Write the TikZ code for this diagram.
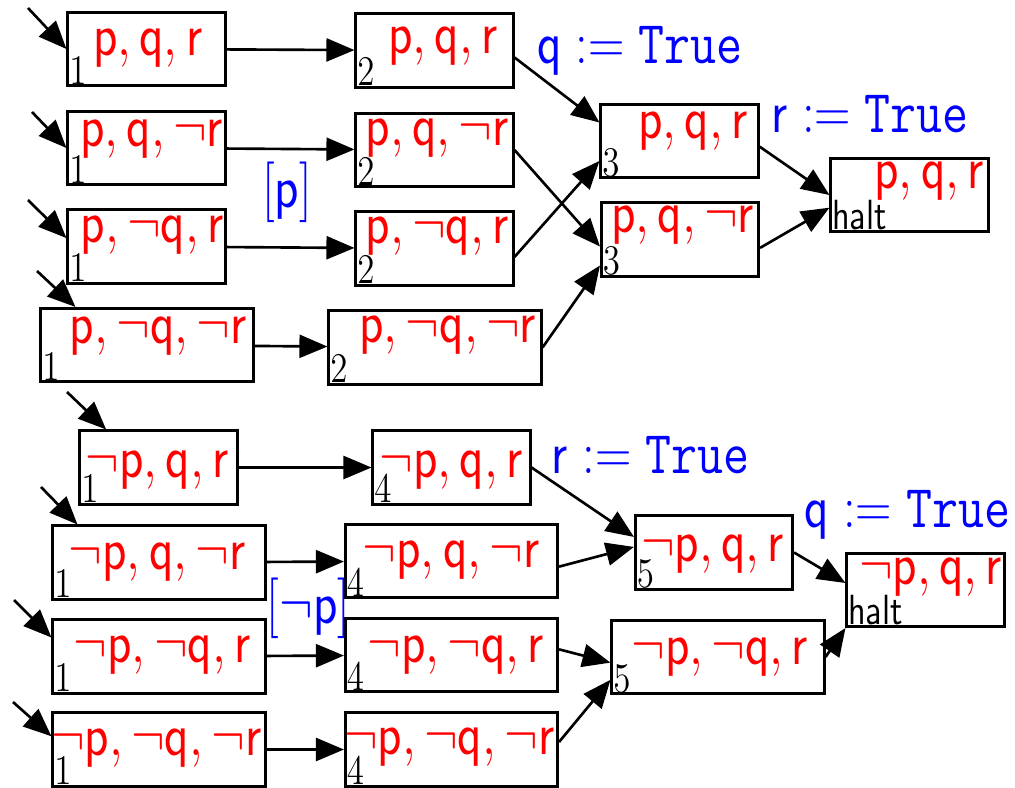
\documentclass[tikz,border=0pt]{standalone}
\usepackage{amsmath}
\usepackage{graphicx}
\usepackage{tikz}
\usetikzlibrary{arrows.meta}
\newcommand{\sq}[1]{\scalebox{0.83}[1]{#1}}
\tikzset{
  st/.style={draw, line width=0.85pt, minimum width=1.57cm, minimum height=0.73cm, inner sep=0pt},
  wide/.style={st, minimum width=2.12cm},
  lit/.style={text=red, font=\LARGE, inner sep=0pt},
  num/.style={anchor=south west, font=\large, inner sep=0.6pt},
  asg/.style={text=blue, font=\LARGE, inner sep=0pt, anchor=base},
  tr/.style={-{Triangle[length=2.8mm,width=2.3mm]}, line width=0.75pt}
}

\begin{document}
\begin{tikzpicture}[x=0.01cm, y=-0.01cm]
      \useasboundingbox (0,0) rectangle (1015,788);
      \node[st, label={[lit, shift={(1.5,-1)}]center:\sq{$\mathsf{p}, \mathsf{q}, \mathsf{r}$}}, label={[num]south west:\sq{$1$}}] (a1) at (146.5,49) {};
      \node[st, label={[lit, shift={(5.5,-9)}]center:\sq{$\mathsf{p}, \mathsf{q}, \neg\mathsf{r}$}}, label={[num]south west:\sq{$1$}}] (a2) at (146.5,148) {};
      \node[st, label={[lit, shift={(6,-11.5)}]center:\sq{$\mathsf{p}, \neg\mathsf{q}, \mathsf{r}$}}, label={[num]south west:\sq{$1$}}] (a3) at (146.5,246.5) {};
      \node[wide, label={[lit, shift={(11.5,-9)}]center:\sq{$\mathsf{p}, \neg\mathsf{q}, \neg\mathsf{r}$}}, label={[num]south west:\sq{$1$}}] (a4) at (147,345) {};
      \node[st, label={[lit, shift={(-1,2.5)}]center:\sq{$\neg\mathsf{p}, \mathsf{q}, \mathsf{r}$}}, label={[num]south west:\sq{$1$}}] (a5) at (158.5,467.5) {};
      \node[wide, label={[lit, shift={(-1.5,-0.5)}]center:\sq{$\neg\mathsf{p}, \mathsf{q}, \neg\mathsf{r}$}}, label={[num]south west:\sq{$1$}}] (a6) at (159,562.5) {};
      \node[wide, label={[lit, shift={(3.5,-1.5)}]center:\sq{$\neg\mathsf{p}, \neg\mathsf{q}, \mathsf{r}$}}, label={[num]south west:\sq{$1$}}] (a7) at (159,656.5) {};
      \node[wide, label={[lit, shift={(-2.5,-1)}]center:\sq{$\neg\mathsf{p}, \neg\mathsf{q}, \neg\mathsf{r}$}}, label={[num]south west:\sq{$1$}}] (a8) at (159,749.5) {};

      \node[st, label={[lit, shift={(8.5,-4.5)}]center:\sq{$\mathsf{p}, \mathsf{q}, \mathsf{r}$}}, label={[num]south west:\sq{$2$}}] (b1) at (434.5,50.5) {};
      \node[st, label={[lit, shift={(3,-11.5)}]center:\sq{$\mathsf{p}, \mathsf{q}, \neg\mathsf{r}$}}, label={[num]south west:\sq{$2$}}] (b2) at (434.5,150) {};
      \node[st, label={[lit, shift={(3,-12.5)}]center:\sq{$\mathsf{p}, \neg\mathsf{q}, \mathsf{r}$}}, label={[num]south west:\sq{$2$}}] (b3) at (434.5,248.5) {};
      \node[wide, label={[lit, shift={(13,-12.5)}]center:\sq{$\mathsf{p}, \neg\mathsf{q}, \neg\mathsf{r}$}}, label={[num]south west:\sq{$2$}}] (b4) at (435,347.5) {};
      \node[st, label={[lit, shift={(0,2.5)}]center:\sq{$\neg\mathsf{p}, \mathsf{q}, \mathsf{r}$}}, label={[num]south west:\sq{$4$}}] (b5) at (451.5,467.5) {};
      \node[wide, label={[lit, shift={(0,-1)}]center:\sq{$\neg\mathsf{p}, \mathsf{q}, \neg\mathsf{r}$}}, label={[num]south west:\sq{$4$}}] (b6) at (451.5,561) {};
      \node[wide, label={[lit, shift={(4.5,0)}]center:\sq{$\neg\mathsf{p}, \neg\mathsf{q}, \mathsf{r}$}}, label={[num]south west:\sq{$4$}}] (b7) at (451.5,655) {};
      \node[wide, label={[lit, shift={(-2,-2.5)}]center:\sq{$\neg\mathsf{p}, \neg\mathsf{q}, \neg\mathsf{r}$}}, label={[num]south west:\sq{$4$}}] (b8) at (451.5,749.5) {};

      \node[st, label={[lit, shift={(13.5,-10)}]center:\sq{$\mathsf{p}, \mathsf{q}, \mathsf{r}$}}, label={[num]south west:\sq{$3$}}] (c1) at (679.5,141) {};
      \node[st, label={[lit, shift={(3,-14.5)}]center:\sq{$\mathsf{p}, \mathsf{q}, \neg\mathsf{r}$}}, label={[num]south west:\sq{$3$}}] (c2) at (680,239.5) {};
      \node[st, label={[lit, shift={(20,-14)}]center:\sq{$\mathsf{p}, \mathsf{q}, \mathsf{r}$}}, label={[num, font=\large\sffamily]south west:\sq{halt}}] (h1) at (909.5,195) {};
      \node[st, label={[lit, shift={(-1,1.5)}]center:\sq{$\neg\mathsf{p}, \mathsf{q}, \mathsf{r}$}}, label={[num]south west:\sq{$5$}}] (c5) at (714,552.5) {};
      \node[wide, label={[lit, shift={(2,0)}]center:\sq{$\neg\mathsf{p}, \neg\mathsf{q}, \mathsf{r}$}}, label={[num]south west:\sq{$5$}}] (c6) at (718,657) {};
      \node[st, label={[lit, shift={(5.5,-13)}]center:\sq{$\neg\mathsf{p}, \mathsf{q}, \mathsf{r}$}}, label={[num, font=\large\sffamily]south west:\sq{halt}}] (h2) at (925.5,590) {};

      \node[asg] (s1) at (640,64) {\sq{$\mathsf{q} := \texttt{True}$}};
      \node[asg] (s2) at (870,133) {\sq{$\mathsf{r} := \texttt{True}$}};
      \node[asg] (s3) at (287,208) {\sq{$[\mathsf{p}]$}};
      \node[asg] (s4) at (650.5,473) {\sq{$\mathsf{r} := \texttt{True}$}};
      \node[asg] (s5) at (907.5,527) {\sq{$\mathsf{q} := \texttt{True}$}};
      \node[asg] (s6) at (308.5,623) {\sq{$[\neg\mathsf{p}]$}};

      \coordinate (i1) at (28,8);
      \coordinate (i2) at (32,112);
      \coordinate (i3) at (28,200);
      \coordinate (i4) at (37,271);
      \coordinate (i5) at (67,392);
      \coordinate (i6) at (41,487);
      \coordinate (i7) at (14,600);
      \coordinate (i8) at (13,702);

      \draw[tr] (i1) -- (a1.west);
      \draw[tr] (i2) -- (a2.west);
      \draw[tr] (i3) -- (a3.174);
      \draw[tr] (i4) -- (a4.152);
      \draw[tr] (i5) -- (a5.144);
      \draw[tr] (i6) -- (a6.155);
      \draw[tr] (i7) -- (a7.170);
      \draw[tr] (i8) -- (a8.173);

      \draw (a1) edge[tr] (b1)
      (a2) edge[tr] (b2)
      (a3) edge[tr] (b3)
      (a4) edge[tr] (b4)
      (a5) edge[tr] (b5)
      (a6) edge[tr] (b6)
      (a7) edge[tr] (b7)
      (a8) edge[tr] (b8)
      (b1.-5) edge[tr] (c1.167)
      (b2.east) edge[tr] (c2.185)
      (b3.-6) edge[tr] (c1.194)
      (b4.east) edge[tr] (c2.198)
      (c1.-4) edge[tr] (h1.west)
      (c2.-6) edge[tr] (h1.189)
      (b5.east) edge[tr] (c5.169)
      (b6.-3) edge[tr] (c5.176)
      (b7.3) edge[tr] (c6.183)
      (b8.4) edge[tr] (c6.192)
      (c5.east) edge[tr] (h2.175)
      (c6.east) edge[tr] (h2.south west)
      ;
    \end{tikzpicture}
\end{document}
